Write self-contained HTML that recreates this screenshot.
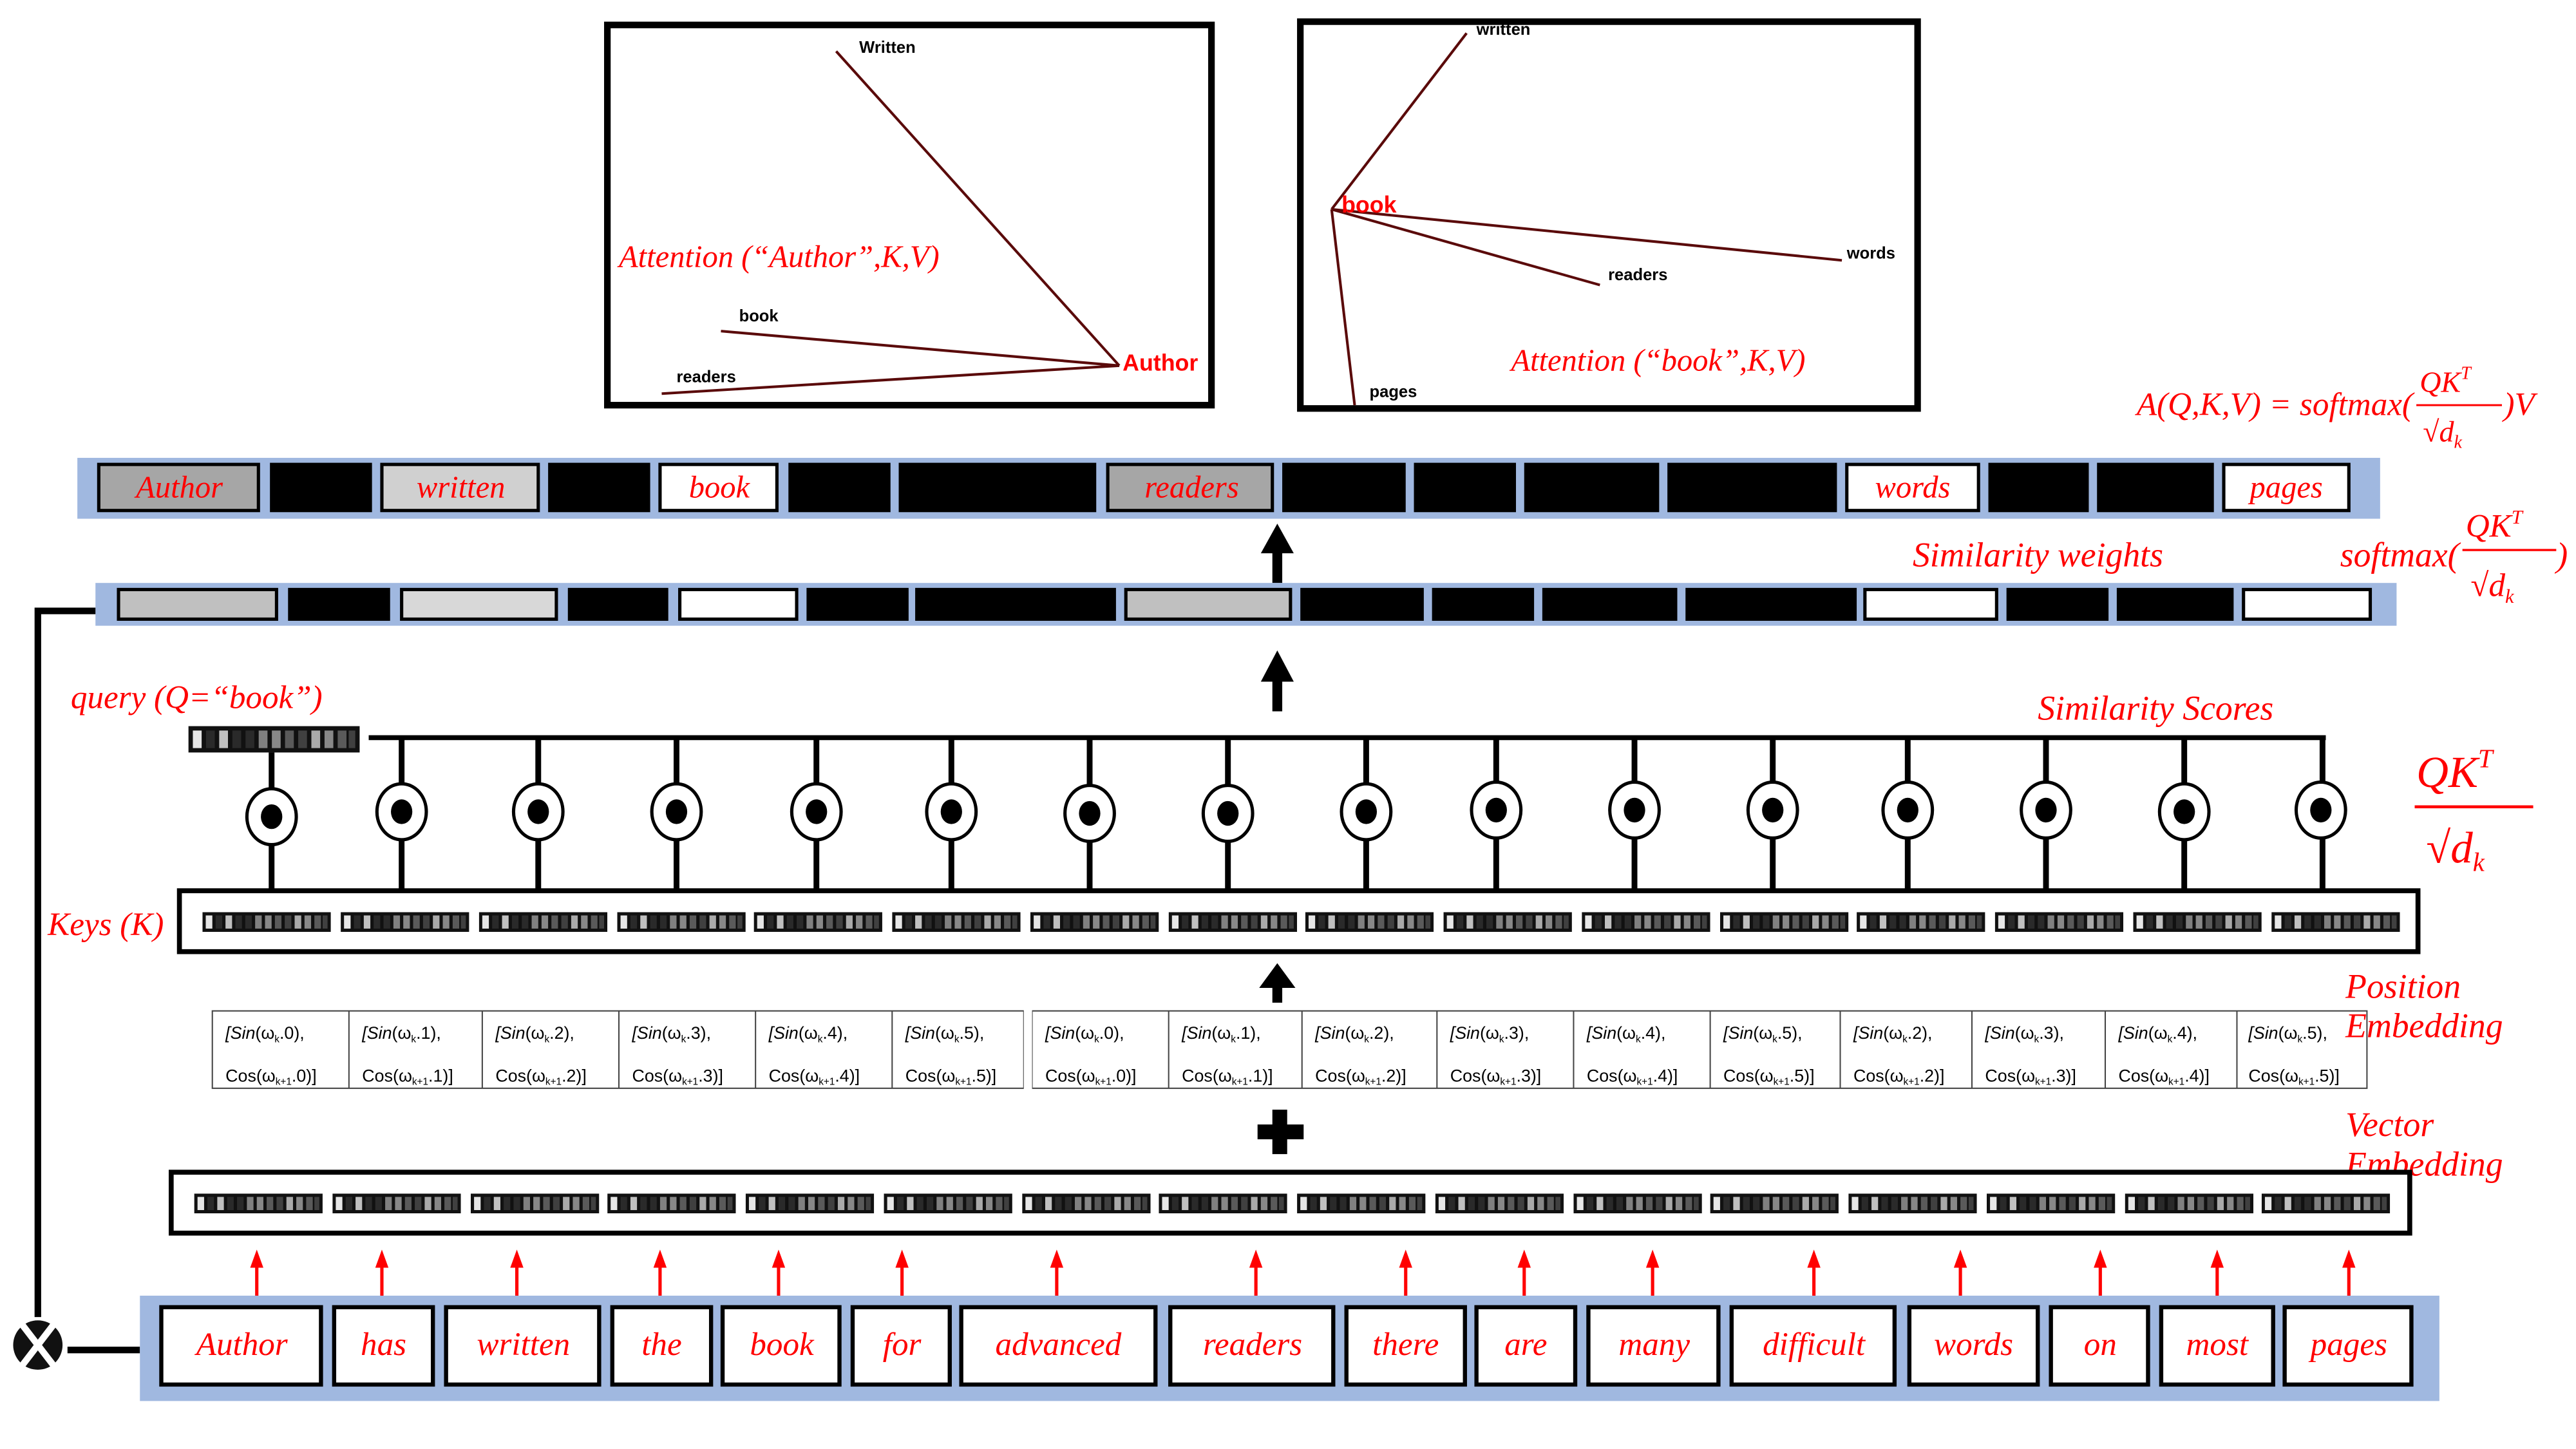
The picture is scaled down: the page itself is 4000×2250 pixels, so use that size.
<!DOCTYPE html>
<html><head><meta charset="utf-8"><style>
html,body{margin:0;padding:0;background:#fff}
svg{display:block}
.cw{font-family:"Liberation Serif",serif;font-style:italic;fill:#f00}
.lb{font-family:"Liberation Sans",sans-serif;font-weight:bold;fill:#000}
.pe{font-family:"Liberation Sans Narrow","Liberation Sans",sans-serif;fill:#000}
.m{font-family:"Liberation Serif",serif;font-style:italic;fill:#f00}
</style></head><body>
<svg width="4000" height="2250" viewBox="0 0 1565 880" xmlns="http://www.w3.org/2000/svg">
<defs>
<symbol id="v" viewBox="0 0 78 12">
<rect x="0" y="0" width="78" height="12" fill="#111"/>
<rect x="2" y="2" width="4" height="8" fill="#e6e6e6"/>
<rect x="8" y="2" width="4" height="8" fill="#2a2a2a"/>
<rect x="14" y="2" width="4" height="8" fill="#c0c0c0"/>
<rect x="20" y="2" width="4" height="8" fill="#2a2a2a"/>
<rect x="26" y="2" width="4" height="8" fill="#2a2a2a"/>
<rect x="32" y="2" width="4" height="8" fill="#808080"/>
<rect x="38" y="2" width="4" height="8" fill="#888"/>
<rect x="44" y="2" width="4" height="8" fill="#5a5a5a"/>
<rect x="50" y="2" width="4" height="8" fill="#404040"/>
<rect x="56" y="2" width="4" height="8" fill="#aaa"/>
<rect x="62" y="2" width="4" height="8" fill="#888"/>
<rect x="68" y="2" width="4" height="8" fill="#5a5a5a"/>
<rect x="73" y="2" width="3" height="8" fill="#404040"/>
</symbol>
<g id="eye"><ellipse cx="0" cy="0" rx="15" ry="17" fill="#fff" stroke="#000" stroke-width="2"/><ellipse cx="0" cy="0" rx="6.5" ry="7.5" fill="#000"/></g>
<g id="ra"><rect x="-1" y="-18" width="2" height="27" fill="#f00"/><path d="M-4,-16 L0,-27 L4,-16 Z" fill="#f00"/></g>
</defs>

<!-- top-left attention box -->
<rect x="369" y="15" width="367" height="231" fill="#fff" stroke="#000" stroke-width="4"/>
<g stroke="#5a0a0a" stroke-width="1.6" fill="none">
<line x1="680" y1="222" x2="508" y2="31"/>
<line x1="680" y1="222" x2="438" y2="201"/>
<line x1="680" y1="222" x2="402" y2="239"/>
</g>
<text x="522" y="32" class="lb" font-size="10">Written</text>
<text x="449" y="195" class="lb" font-size="10">book</text>
<text x="411" y="232" class="lb" font-size="10">readers</text>
<text x="682" y="225" class="lb" font-size="14" style="fill:#f00">Author</text>
<text x="376" y="162" class="cw" font-size="19">Attention (“Author”,K,V)</text>

<!-- top-right attention box -->
<rect x="790" y="13" width="375" height="235" fill="#fff" stroke="#000" stroke-width="4"/>
<g stroke="#5a0a0a" stroke-width="1.6" fill="none">
<line x1="809" y1="127" x2="891" y2="20"/>
<line x1="809" y1="127" x2="1119" y2="158"/>
<line x1="809" y1="127" x2="972" y2="173"/>
<line x1="809" y1="127" x2="823" y2="246"/>
</g>
<text x="897" y="21" class="lb" font-size="10">written</text>
<text x="1122" y="157" class="lb" font-size="10">words</text>
<text x="977" y="170" class="lb" font-size="10">readers</text>
<text x="832" y="241" class="lb" font-size="10">pages</text>
<text x="815" y="129" class="lb" font-size="14" style="fill:#f00">book</text>
<text x="918" y="225" class="cw" font-size="19">Attention (“book”,K,V)</text>

<!-- formula -->
<text x="1466" y="252" class="m" font-size="20" text-anchor="end">A(Q,K,V) = softmax(</text>
<text x="1470" y="238" class="m" font-size="18">QK<tspan font-size="11" dy="-8">T</tspan></text>
<line x1="1468" y1="246" x2="1520" y2="246" stroke="#f00" stroke-width="1.2"/>
<text x="1472" y="268" class="m" font-size="18">√d<tspan font-size="11" dy="4">k</tspan></text>
<text x="1521" y="252" class="m" font-size="20">)V</text>

<!-- values row -->
<rect x="47" y="278" width="1399" height="37" fill="#a0b8e0"/>
<g stroke="#000" stroke-width="2">
<rect x="60" y="282" width="97" height="28" fill="#a6a6a6"/>
<rect x="165" y="282" width="60" height="28" fill="#000"/>
<rect x="232" y="282" width="95" height="28" fill="#d0d0d0"/>
<rect x="334" y="282" width="60" height="28" fill="#000"/>
<rect x="401" y="282" width="71" height="28" fill="#fff"/>
<rect x="480" y="282" width="60" height="28" fill="#000"/>
<rect x="547" y="282" width="118" height="28" fill="#000"/>
<rect x="673" y="282" width="100" height="28" fill="#a6a6a6"/>
<rect x="780" y="282" width="73" height="28" fill="#000"/>
<rect x="860" y="282" width="60" height="28" fill="#000"/>
<rect x="927" y="282" width="80" height="28" fill="#000"/>
<rect x="1014" y="282" width="101" height="28" fill="#000"/>
<rect x="1122" y="282" width="80" height="28" fill="#fff"/>
<rect x="1209" y="282" width="59" height="28" fill="#000"/>
<rect x="1275" y="282" width="69" height="28" fill="#000"/>
<rect x="1351" y="282" width="76" height="28" fill="#fff"/>
</g>
<g class="cw" font-size="19" text-anchor="middle">
<text x="109" y="302">Author</text>
<text x="280" y="302">written</text>
<text x="437" y="302">book</text>
<text x="724" y="302">readers</text>
<text x="1162" y="302">words</text>
<text x="1389" y="302">pages</text>
</g>

<!-- arrows up -->
<g fill="#000">
<rect x="773" y="334" width="6" height="20"/><path d="M766,336 L776,318 L786,336 Z"/>
<rect x="773" y="412" width="6" height="20"/><path d="M766,414 L776,395 L786,414 Z"/>
<rect x="773" y="598" width="6" height="11"/><path d="M765,600 L776,585 L787,600 Z"/>
<rect x="764" y="683" width="28" height="9"/><rect x="773" y="674" width="9" height="27"/>
</g>

<!-- weights row -->
<rect x="58" y="354" width="1398" height="26" fill="#a0b8e0"/>
<g stroke="#000" stroke-width="2">
<rect x="72" y="358" width="96" height="18" fill="#c0c0c0"/>
<rect x="176" y="358" width="60" height="18" fill="#000"/>
<rect x="244" y="358" width="94" height="18" fill="#d8d8d8"/>
<rect x="346" y="358" width="59" height="18" fill="#000"/>
<rect x="413" y="358" width="71" height="18" fill="#fff"/>
<rect x="491" y="358" width="60" height="18" fill="#000"/>
<rect x="557" y="358" width="120" height="18" fill="#000"/>
<rect x="684" y="358" width="100" height="18" fill="#c0c0c0"/>
<rect x="791" y="358" width="73" height="18" fill="#000"/>
<rect x="871" y="358" width="60" height="18" fill="#000"/>
<rect x="938" y="358" width="80" height="18" fill="#000"/>
<rect x="1025" y="358" width="102" height="18" fill="#000"/>
<rect x="1133" y="358" width="80" height="18" fill="#fff"/>
<rect x="1220" y="358" width="60" height="18" fill="#000"/>
<rect x="1287" y="358" width="69" height="18" fill="#000"/>
<rect x="1363" y="358" width="77" height="18" fill="#fff"/>
</g>
<text x="1162" y="344" class="cw" font-size="21">Similarity weights</text>
<text x="1494" y="344" class="m" font-size="21" text-anchor="end">softmax(</text>
<text x="1498" y="326" class="m" font-size="20">QK<tspan font-size="12" dy="-8">T</tspan></text>
<line x1="1496" y1="334" x2="1553" y2="334" stroke="#f00" stroke-width="1.3"/>
<text x="1501" y="362" class="m" font-size="20">√d<tspan font-size="12" dy="4">k</tspan></text>
<text x="1553" y="344" class="m" font-size="21">)</text>

<!-- left feedback line -->
<g stroke="#000" stroke-width="4" fill="none">
<polyline points="58,371 23,371 23,800"/>
<line x1="41" y1="820" x2="85" y2="820"/>
</g>
<circle cx="23" cy="817" r="15" fill="#111"/>
<g stroke="#fff" stroke-width="4"><line x1="13" y1="804" x2="33" y2="830"/><line x1="33" y1="804" x2="13" y2="830"/></g>

<!-- query -->
<text x="43" y="430" class="cw" font-size="20">query (Q=“book”)</text>
<use href="#v" x="109" y="441" width="115" height="16"/>
<line x1="224" y1="448" x2="1413" y2="448" stroke="#000" stroke-width="3"/>
<text x="1238" y="437" class="cw" font-size="21">Similarity Scores</text>
<text x="1468" y="478" class="m" font-size="27">QK<tspan font-size="16" dy="-12">T</tspan></text>
<line x1="1467" y1="490" x2="1539" y2="490" stroke="#f00" stroke-width="1.8"/>
<text x="1474" y="524" class="m" font-size="27">√d<tspan font-size="16" dy="5">k</tspan></text>

<g stroke="#000" stroke-width="3.5">
<line x1="165" y1="457" x2="165" y2="540"/>
<line x1="244" y1="448" x2="244" y2="540"/>
<line x1="327" y1="448" x2="327" y2="540"/>
<line x1="411" y1="448" x2="411" y2="540"/>
<line x1="496" y1="448" x2="496" y2="540"/>
<line x1="578" y1="448" x2="578" y2="540"/>
<line x1="662" y1="448" x2="662" y2="540"/>
<line x1="746" y1="448" x2="746" y2="540"/>
<line x1="830" y1="448" x2="830" y2="540"/>
<line x1="909" y1="448" x2="909" y2="540"/>
<line x1="993" y1="448" x2="993" y2="540"/>
<line x1="1077" y1="448" x2="1077" y2="540"/>
<line x1="1159" y1="448" x2="1159" y2="540"/>
<line x1="1243" y1="448" x2="1243" y2="540"/>
<line x1="1327" y1="448" x2="1327" y2="540"/>
<line x1="1411" y1="448" x2="1411" y2="540"/>
</g>
<use href="#eye" x="165" y="496"/><use href="#eye" x="244" y="493"/><use href="#eye" x="327" y="493"/><use href="#eye" x="411" y="493"/>
<use href="#eye" x="496" y="493"/><use href="#eye" x="578" y="493"/><use href="#eye" x="662" y="494"/><use href="#eye" x="746" y="494"/>
<use href="#eye" x="830" y="493"/><use href="#eye" x="909" y="492"/><use href="#eye" x="993" y="492"/><use href="#eye" x="1077" y="492"/>
<use href="#eye" x="1159" y="492"/><use href="#eye" x="1243" y="492"/><use href="#eye" x="1327" y="493"/><use href="#eye" x="1410" y="492"/>

<!-- keys -->
<rect x="109" y="541" width="1360" height="37" fill="#fff" stroke="#000" stroke-width="3"/>
<text x="29" y="568" class="cw" font-size="20">Keys (K)</text>
<g>
<use href="#v" x="123" y="554" width="78" height="12"/><use href="#v" x="207" y="554" width="78" height="12"/>
<use href="#v" x="291" y="554" width="78" height="12"/><use href="#v" x="375" y="554" width="78" height="12"/>
<use href="#v" x="458" y="554" width="78" height="12"/><use href="#v" x="542" y="554" width="78" height="12"/>
<use href="#v" x="626" y="554" width="78" height="12"/><use href="#v" x="710" y="554" width="78" height="12"/>
<use href="#v" x="793" y="554" width="78" height="12"/><use href="#v" x="877" y="554" width="78" height="12"/>
<use href="#v" x="961" y="554" width="78" height="12"/><use href="#v" x="1045" y="554" width="78" height="12"/>
<use href="#v" x="1128" y="554" width="78" height="12"/><use href="#v" x="1212" y="554" width="78" height="12"/>
<use href="#v" x="1296" y="554" width="78" height="12"/><use href="#v" x="1380" y="554" width="78" height="12"/>
</g>

<!-- position embedding -->
<rect x="129" y="614" width="1309" height="47" fill="#fff" stroke="#444" stroke-width="0.8"/>
<g stroke="#444" stroke-width="0.8">
<line x1="212" y1="614" x2="212" y2="661"/><line x1="293" y1="614" x2="293" y2="661"/><line x1="376" y1="614" x2="376" y2="661"/>
<line x1="459" y1="614" x2="459" y2="661"/><line x1="542" y1="614" x2="542" y2="661"/><line x1="622" y1="614" x2="622" y2="661"/>
<line x1="627" y1="614" x2="627" y2="661"/><line x1="710" y1="614" x2="710" y2="661"/><line x1="791" y1="614" x2="791" y2="661"/>
<line x1="873" y1="614" x2="873" y2="661"/><line x1="956" y1="614" x2="956" y2="661"/><line x1="1039" y1="614" x2="1039" y2="661"/>
<line x1="1118" y1="614" x2="1118" y2="661"/><line x1="1198" y1="614" x2="1198" y2="661"/><line x1="1279" y1="614" x2="1279" y2="661"/>
<line x1="1359" y1="614" x2="1359" y2="661"/>
</g>
<rect x="622" y="612" width="5" height="52" fill="#fff"/>
<g class="pe" font-size="10.5">
<text x="137" y="631"><tspan font-style="italic">[Sin</tspan>(ω<tspan font-size="6" dy="2">k</tspan><tspan dy="-2">.0),</tspan></text><text x="137" y="657">Cos(ω<tspan font-size="6" dy="2">k+1</tspan><tspan dy="-2">.0)]</tspan></text>
<text x="220" y="631"><tspan font-style="italic">[Sin</tspan>(ω<tspan font-size="6" dy="2">k</tspan><tspan dy="-2">.1),</tspan></text><text x="220" y="657">Cos(ω<tspan font-size="6" dy="2">k+1</tspan><tspan dy="-2">.1)]</tspan></text>
<text x="301" y="631"><tspan font-style="italic">[Sin</tspan>(ω<tspan font-size="6" dy="2">k</tspan><tspan dy="-2">.2),</tspan></text><text x="301" y="657">Cos(ω<tspan font-size="6" dy="2">k+1</tspan><tspan dy="-2">.2)]</tspan></text>
<text x="384" y="631"><tspan font-style="italic">[Sin</tspan>(ω<tspan font-size="6" dy="2">k</tspan><tspan dy="-2">.3),</tspan></text><text x="384" y="657">Cos(ω<tspan font-size="6" dy="2">k+1</tspan><tspan dy="-2">.3)]</tspan></text>
<text x="467" y="631"><tspan font-style="italic">[Sin</tspan>(ω<tspan font-size="6" dy="2">k</tspan><tspan dy="-2">.4),</tspan></text><text x="467" y="657">Cos(ω<tspan font-size="6" dy="2">k+1</tspan><tspan dy="-2">.4)]</tspan></text>
<text x="550" y="631"><tspan font-style="italic">[Sin</tspan>(ω<tspan font-size="6" dy="2">k</tspan><tspan dy="-2">.5),</tspan></text><text x="550" y="657">Cos(ω<tspan font-size="6" dy="2">k+1</tspan><tspan dy="-2">.5)]</tspan></text>
<text x="635" y="631"><tspan font-style="italic">[Sin</tspan>(ω<tspan font-size="6" dy="2">k</tspan><tspan dy="-2">.0),</tspan></text><text x="635" y="657">Cos(ω<tspan font-size="6" dy="2">k+1</tspan><tspan dy="-2">.0)]</tspan></text>
<text x="718" y="631"><tspan font-style="italic">[Sin</tspan>(ω<tspan font-size="6" dy="2">k</tspan><tspan dy="-2">.1),</tspan></text><text x="718" y="657">Cos(ω<tspan font-size="6" dy="2">k+1</tspan><tspan dy="-2">.1)]</tspan></text>
<text x="799" y="631"><tspan font-style="italic">[Sin</tspan>(ω<tspan font-size="6" dy="2">k</tspan><tspan dy="-2">.2),</tspan></text><text x="799" y="657">Cos(ω<tspan font-size="6" dy="2">k+1</tspan><tspan dy="-2">.2)]</tspan></text>
<text x="881" y="631"><tspan font-style="italic">[Sin</tspan>(ω<tspan font-size="6" dy="2">k</tspan><tspan dy="-2">.3),</tspan></text><text x="881" y="657">Cos(ω<tspan font-size="6" dy="2">k+1</tspan><tspan dy="-2">.3)]</tspan></text>
<text x="964" y="631"><tspan font-style="italic">[Sin</tspan>(ω<tspan font-size="6" dy="2">k</tspan><tspan dy="-2">.4),</tspan></text><text x="964" y="657">Cos(ω<tspan font-size="6" dy="2">k+1</tspan><tspan dy="-2">.4)]</tspan></text>
<text x="1047" y="631"><tspan font-style="italic">[Sin</tspan>(ω<tspan font-size="6" dy="2">k</tspan><tspan dy="-2">.5),</tspan></text><text x="1047" y="657">Cos(ω<tspan font-size="6" dy="2">k+1</tspan><tspan dy="-2">.5)]</tspan></text>
<text x="1126" y="631"><tspan font-style="italic">[Sin</tspan>(ω<tspan font-size="6" dy="2">k</tspan><tspan dy="-2">.2),</tspan></text><text x="1126" y="657">Cos(ω<tspan font-size="6" dy="2">k+1</tspan><tspan dy="-2">.2)]</tspan></text>
<text x="1206" y="631"><tspan font-style="italic">[Sin</tspan>(ω<tspan font-size="6" dy="2">k</tspan><tspan dy="-2">.3),</tspan></text><text x="1206" y="657">Cos(ω<tspan font-size="6" dy="2">k+1</tspan><tspan dy="-2">.3)]</tspan></text>
<text x="1287" y="631"><tspan font-style="italic">[Sin</tspan>(ω<tspan font-size="6" dy="2">k</tspan><tspan dy="-2">.4),</tspan></text><text x="1287" y="657">Cos(ω<tspan font-size="6" dy="2">k+1</tspan><tspan dy="-2">.4)]</tspan></text>
<text x="1366" y="631"><tspan font-style="italic">[Sin</tspan>(ω<tspan font-size="6" dy="2">k</tspan><tspan dy="-2">.5),</tspan></text><text x="1366" y="657">Cos(ω<tspan font-size="6" dy="2">k+1</tspan><tspan dy="-2">.5)]</tspan></text>
</g>
<text x="1425" y="606" class="cw" font-size="21">Position</text>
<text x="1425" y="630" class="cw" font-size="21">Embedding</text>
<text x="1425" y="690" class="cw" font-size="21">Vector</text>
<text x="1425" y="714" class="cw" font-size="21">Embedding</text>

<!-- vector embedding -->
<rect x="104" y="712" width="1360" height="37" fill="#fff" stroke="#000" stroke-width="3"/>
<g>
<use href="#v" x="118" y="725" width="78" height="12"/><use href="#v" x="202" y="725" width="78" height="12"/>
<use href="#v" x="286" y="725" width="78" height="12"/><use href="#v" x="369" y="725" width="78" height="12"/>
<use href="#v" x="453" y="725" width="78" height="12"/><use href="#v" x="537" y="725" width="78" height="12"/>
<use href="#v" x="621" y="725" width="78" height="12"/><use href="#v" x="704" y="725" width="78" height="12"/>
<use href="#v" x="788" y="725" width="78" height="12"/><use href="#v" x="872" y="725" width="78" height="12"/>
<use href="#v" x="956" y="725" width="78" height="12"/><use href="#v" x="1039" y="725" width="78" height="12"/>
<use href="#v" x="1123" y="725" width="78" height="12"/><use href="#v" x="1207" y="725" width="78" height="12"/>
<use href="#v" x="1291" y="725" width="78" height="12"/><use href="#v" x="1374" y="725" width="78" height="12"/>
</g>

<!-- red arrows -->
<use href="#ra" x="156" y="786"/><use href="#ra" x="232" y="786"/><use href="#ra" x="314" y="786"/>
<use href="#ra" x="401" y="786"/><use href="#ra" x="473" y="786"/><use href="#ra" x="548" y="786"/>
<use href="#ra" x="642" y="786"/><use href="#ra" x="763" y="786"/><use href="#ra" x="854" y="786"/>
<use href="#ra" x="926" y="786"/><use href="#ra" x="1004" y="786"/><use href="#ra" x="1102" y="786"/>
<use href="#ra" x="1191" y="786"/><use href="#ra" x="1276" y="786"/><use href="#ra" x="1347" y="786"/>
<use href="#ra" x="1427" y="786"/>

<!-- bottom word row -->
<rect x="85" y="787" width="1397" height="64" fill="#a0b8e0"/>
<g stroke="#000" stroke-width="2.5" fill="#fff">
<rect x="98" y="794" width="97" height="47"/><rect x="203" y="794" width="60" height="47"/><rect x="271" y="794" width="93" height="47"/>
<rect x="372" y="794" width="60" height="47"/><rect x="439" y="794" width="71" height="47"/><rect x="518" y="794" width="59" height="47"/>
<rect x="584" y="794" width="118" height="47"/><rect x="711" y="794" width="99" height="47"/><rect x="818" y="794" width="72" height="47"/>
<rect x="897" y="794" width="60" height="47"/><rect x="965" y="794" width="79" height="47"/><rect x="1052" y="794" width="99" height="47"/>
<rect x="1160" y="794" width="78" height="47"/><rect x="1246" y="794" width="59" height="47"/><rect x="1313" y="794" width="68" height="47"/>
<rect x="1388" y="794" width="77" height="47"/>
</g>
<g class="cw" font-size="20" text-anchor="middle">
<text x="147" y="823">Author</text><text x="233" y="823">has</text><text x="318" y="823">written</text>
<text x="402" y="823">the</text><text x="475" y="823">book</text><text x="548" y="823">for</text>
<text x="643" y="823">advanced</text><text x="761" y="823">readers</text><text x="854" y="823">there</text>
<text x="927" y="823">are</text><text x="1005" y="823">many</text><text x="1102" y="823">difficult</text>
<text x="1199" y="823">words</text><text x="1276" y="823">on</text><text x="1347" y="823">most</text>
<text x="1427" y="823">pages</text>
</g>
</svg>
</body></html>
